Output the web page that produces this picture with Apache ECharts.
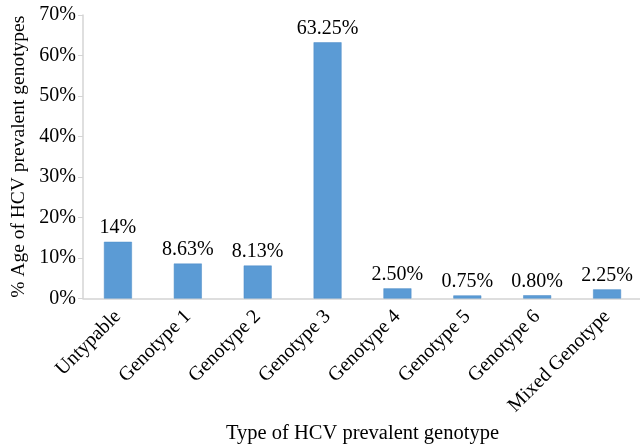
<!DOCTYPE html>
<html>
<head>
<meta charset="utf-8">
<script src="https://cdn.jsdelivr.net/npm/echarts@6/dist/echarts.min.js"></script>
<style>
  html, body { margin: 0; padding: 0; background: #fff; }
  #chart { width: 640px; height: 444px; }
</style>
</head>
<body>
<div id="chart"></div>
<script>
// HCV genotype prevalence
const categories = ['Untypable', 'Genotype 1', 'Genotype 2', 'Genotype 3', 'Genotype 4', 'Genotype 5', 'Genotype 6', 'Mixed Genotype'];
const prevalence = [14, 8.63, 8.13, 63.25, 2.50, 0.75, 0.80, 2.25];
const valueLabels = ['14%', '8.63%', '8.13%', '63.25%', '2.50%', '0.75%', '0.80%', '2.25%'];

const serif = '"Liberation Serif", "DejaVu Serif", serif';
const chart = echarts.init(document.getElementById('chart'), null, { renderer: 'canvas' });

chart.setOption({
  animation: false,
  backgroundColor: '#ffffff',
  grid: { left: 83, right: -2, top: 15, bottom: 145.5, containLabel: false, outerBoundsMode: 'none' },
  xAxis: {
    type: 'category',
    data: categories,
    name: 'Type of HCV prevalent genotype',
    nameLocation: 'middle',
    nameGap: 124,
    nameTextStyle: { fontFamily: serif, fontSize: 20.5, color: '#000' },
    axisLine: { lineStyle: { color: '#d4d4d4', width: 1.5 } },
    axisTick: { show: false },
    axisLabel: { rotate: 45, fontFamily: serif, fontSize: 20, color: '#000', margin: 15, interval: 0 }
  },
  yAxis: {
    type: 'value',
    min: 0, max: 70, interval: 10,
    name: '% Age of HCV prevalent genotypes',
    nameLocation: 'middle',
    nameGap: 54,
    nameTextStyle: { fontFamily: serif, fontSize: 19.5, color: '#000' },
    axisLine: { show: true, lineStyle: { color: '#d4d4d4', width: 1.5 } },
    axisTick: { show: true, length: 5, lineStyle: { color: '#d4d4d4' } },
    splitLine: { show: false },
    axisLabel: { formatter: '{value}%', fontFamily: serif, fontSize: 20, color: '#000', margin: 7 }
  },
  series: [{
    type: 'bar',
    data: prevalence,
    barWidth: '40%',
    itemStyle: { color: '#5b9bd5', borderColor: '#4a8ac6', borderWidth: 0.5 },
    label: {
      show: true,
      position: 'top',
      distance: 4,
      fontFamily: serif,
      fontSize: 20,
      color: '#000',
      formatter: p => valueLabels[p.dataIndex]
    }
  }]
});
</script>
</body>
</html>
